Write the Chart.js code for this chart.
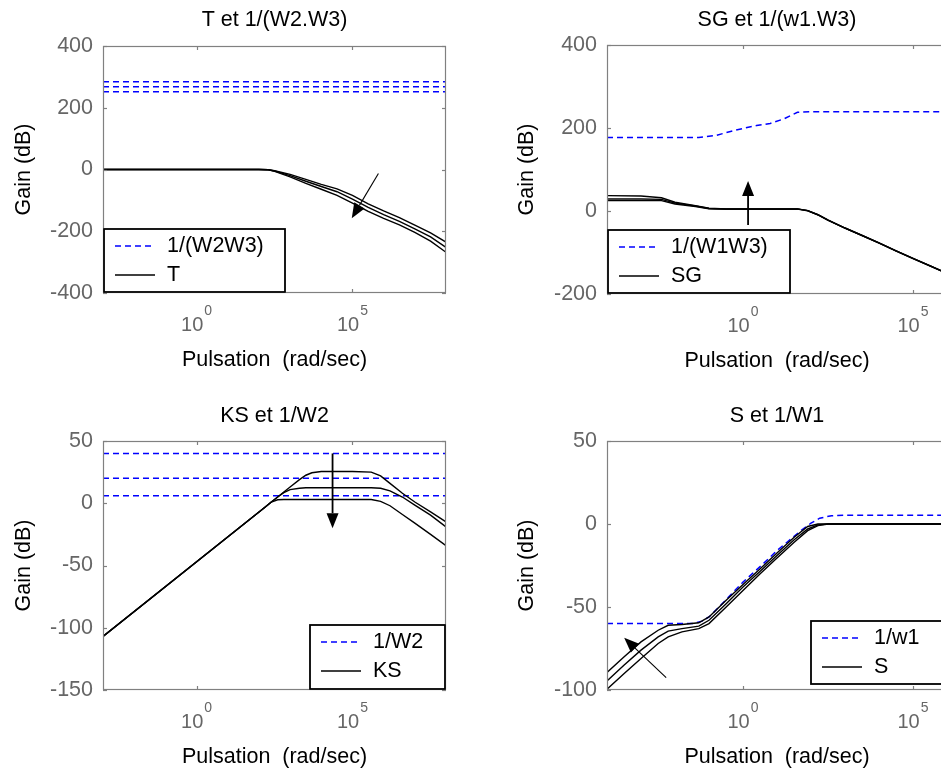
<!DOCTYPE html>
<html>
<head>
<meta charset="utf-8">
<title>Gabarits H-infini</title>
<script src="https://cdn.jsdelivr.net/npm/chart.js@4.4.1/dist/chart.umd.min.js"></script>
<style>
  html, body { margin: 0; padding: 0; background: #ffffff; width: 941px; height: 773px; overflow: hidden; }
  body { position: relative; }
  canvas { position: absolute; }
</style>
</head>
<body>
<canvas id="plotT"></canvas>
<canvas id="plotSG"></canvas>
<canvas id="plotKS"></canvas>
<canvas id="plotS"></canvas>
<script>
// ---------- T et 1/(W2.W3) ----------
const tFreq  = [1e-3, 1e2, 2e2, 3.2e2, 1e3, 3.2e3, 1e4, 3.2e4, 1e5, 3.2e5, 1e6, 3.2e6, 1e7, 3.2e7, 1e8];
const tGainA = [0, 0, -1, -4, -16, -32, -48, -63, -84, -111, -134, -156, -180, -205, -235];
const tGainB = [0, 0, -1, -5, -20, -38, -55, -72, -96, -123, -146, -168, -192, -218, -252];
const tGainC = [0, 0, -1, -6, -24, -45, -64, -84, -109, -136, -158, -179, -204, -232, -268];
const invW2W3Freq = [1e-3, 1e8];
const invW2W3A = [284, 284];
const invW2W3B = [268, 268];
const invW2W3C = [252, 252];
const tArrow = [6.8e5, -13, 9.5e4, -158];
const tLegend = ['1/(W2W3)', 'T'];

// ---------- SG et 1/(w1.W3) ----------
const sgFreq  = [1e-4, 1e-3, 4e-3, 1e-2, 4e-2, 0.1, 0.32, 1, 10, 40, 80, 160, 320, 1e3, 3.2e3, 1e4, 3.2e4, 1e5, 3.2e5, 1e6];
const sgGainA = [37, 36, 32, 21, 13, 6.5, 5, 5, 5, 5, 1, -9, -22, -41, -59, -77, -96, -114, -132, -150];
const sgGainB = [29, 29, 28, 19, 12, 6, 5, 5, 5, 5, 1, -9, -22, -41, -59, -77, -96, -114, -132, -150];
const sgGainC = [25, 25, 25, 17, 11, 5.5, 4.5, 4.5, 4.5, 4.5, 0.5, -9.5, -22.5, -41.5, -59.5, -77.5, -96.5, -114.5, -132.5, -150.5];
const invW1W3Freq = [1e-4, 5e-2, 0.16, 0.4, 1, 2.5, 6.3, 16, 25, 40, 100, 1e6];
const invW1W3     = [177, 177, 182, 191, 199, 206, 211, 222, 230, 238, 239, 239];
const sgArrow = [1.41, -34, 1.41, 72];
const sgLegend = ['1/(W1W3)', 'SG'];

// ---------- KS et 1/W2 ----------
const ksFreq  = [1e-3, 1.6e2, 2.5e2, 4e2, 6.3e2, 1e3, 2e3, 3.2e3, 5e3, 1e4, 1e5, 4e5, 8e5, 1.6e6, 4e6, 1e7, 3.2e7, 1e8];
const ksGainA = [-107, -3, 1, 5, 9, 13, 19, 22.5, 24.5, 25.5, 25.5, 25, 22, 16, 8, 1, -7, -15];
const ksGainB = [-107, -3, 1, 5, 8.5, 11, 12, 12.5, 12.5, 12.5, 12.5, 12.5, 12, 10, 5, -1.5, -9.5, -19];
const ksGainC = [-107, -3, 1, 2.8, 3, 3, 3, 3, 3, 3, 3, 3, 1.5, -2, -9, -16, -25, -34];
const invW2Freq = [1e-3, 1e8];
const invW2A = [40, 40];
const invW2B = [20, 20];
const invW2C = [6, 6];
const ksArrow = [2.3e4, 40, 2.3e4, -20];
const ksLegend = ['1/W2', 'KS'];

// ---------- S et 1/W1 ----------
const sFreq  = [1e-4, 3.2e-4, 1e-3, 3.2e-3, 6.3e-3, 1.6e-2, 5e-2, 0.1, 0.32, 1, 3.2, 10, 32, 80, 160, 320, 1e6];
const sGainA = [-89.5, -80, -71, -64, -61, -60.5, -59.5, -56, -46, -36.5, -27, -17.5, -8, -1.5, 0, 0, 0];
const sGainB = [-94.5, -85, -76, -68, -64.5, -63, -61.5, -58, -48, -38, -28.5, -19, -9.5, -3, -0.5, 0, 0];
const sGainC = [-99.5, -90, -81, -72, -68, -65, -63, -60, -50, -40, -30, -20.5, -11, -4, -1, 0, 0];
const invW1Freq = [1e-4, 3.2e-2, 6.3e-2, 0.1, 0.166, 1, 3.9, 10, 47, 100, 180, 400, 1e3, 1e6];
const invW1     = [-60, -60, -58.5, -56, -51.5, -35, -24, -16, -4.5, 0.5, 3.5, 5, 5.3, 5.3];
const sArrow = [5.5e-3, -92.6, 3.2e-4, -68.5];
const sLegend = ['1/w1', 'S'];

// shared axis text
const xTickValues = [1, 1e5];
const xTitle = 'Pulsation  (rad/sec)';
const yTitle = 'Gain (dB)';

// ---------- styling ----------
const FONT = '"Liberation Sans", Arial, Helvetica, sans-serif';
const FS = 21.5;
const LH = FS * 1.2;
const TICK_GREY = '#666666';
const FRAME_GREY = '#808080';
const BLUE = '#0000ff';
const Y_AXIS_W = 103;
const TITLE_H = 46;
const X_AXIS_H = 90;
const PAD_R = 5;

Chart.defaults.font.family = FONT;
Chart.defaults.font.size = FS;

function series(freq, gain, dashed) {
  return {
    data: freq.map((f, i) => ({ x: f, y: gain[i] })),
    borderColor: dashed ? BLUE : '#000000',
    borderWidth: dashed ? 1.5 : 1.4,
    borderDash: dashed ? [6, 4] : [],
    pointRadius: 0,
    tension: 0,
    fill: false,
    order: dashed ? 2 : 1
  };
}

function line(ctx, x0, y0, x1, y1) {
  ctx.beginPath(); ctx.moveTo(x0, y0); ctx.lineTo(x1, y1); ctx.stroke();
}

function arrow(ctx, x0, y0, x1, y1, len, wid) {
  const a = Math.atan2(y1 - y0, x1 - x0);
  const bx = x1 - len * Math.cos(a), by = y1 - len * Math.sin(a);
  line(ctx, x0, y0, bx, by);
  ctx.beginPath();
  ctx.moveTo(x1, y1);
  ctx.lineTo(bx + wid / 2 * Math.sin(a), by - wid / 2 * Math.cos(a));
  ctx.lineTo(bx - wid / 2 * Math.sin(a), by + wid / 2 * Math.cos(a));
  ctx.closePath();
  ctx.fill();
}

// frame, inward ticks, exponent tick labels, annotation arrow, boxed legend
const bodeDecor = {
  id: 'bodeDecor',
  afterDatasetsDraw(chart, args, opts) {
    const { ctx, chartArea: a } = chart;
    const x = chart.scales.x, y = chart.scales.y;
    ctx.save();

    // arrow
    if (opts.arrow) {
      const [ax0, ay0, ax1, ay1] = opts.arrow;
      ctx.strokeStyle = '#000'; ctx.fillStyle = '#000';
      ctx.lineWidth = opts.arrowWidth || 1.6; ctx.setLineDash([]);
      arrow(ctx, x.getPixelForValue(ax0), y.getPixelForValue(ay0),
                 x.getPixelForValue(ax1), y.getPixelForValue(ay1), 15, 12);
    }

    // frame
    ctx.strokeStyle = FRAME_GREY; ctx.lineWidth = 1.2; ctx.setLineDash([]);
    ctx.strokeRect(a.left + 0.5, a.top + 0.5, a.right - a.left - 1, a.bottom - a.top - 1);

    // inward tick marks
    x.ticks.forEach(t => {
      const px = Math.round(x.getPixelForValue(t.value)) + 0.5;
      line(ctx, px, a.bottom, px, a.bottom - 4);
      line(ctx, px, a.top, px, a.top + 4);
    });
    y.ticks.forEach(t => {
      const py = Math.round(y.getPixelForValue(t.value)) + 0.5;
      line(ctx, a.left, py, a.left + 4, py);
      line(ctx, a.right, py, a.right - 4, py);
    });

    // decade labels 10^n
    ctx.fillStyle = TICK_GREY; ctx.textAlign = 'left'; ctx.textBaseline = 'alphabetic';
    x.ticks.forEach(t => {
      const px = x.getPixelForValue(t.value);
      const exp = String(Math.round(Math.log10(t.value)));
      ctx.font = `20px ${FONT}`;
      const w1 = ctx.measureText('10').width;
      ctx.font = `14px ${FONT}`;
      const w2 = ctx.measureText(exp).width;
      const x0 = px - (w1 + 1 + w2) / 2;
      ctx.font = `20px ${FONT}`;
      ctx.fillText('10', x0, a.bottom + 38);
      ctx.font = `14px ${FONT}`;
      ctx.fillText(exp, x0 + w1 + 1, a.bottom + 22);
    });

    // legend box
    const lg = opts.legend;
    if (lg) {
      const lx = lg.corner === 'se' ? a.right - lg.w : a.left;
      const ly = a.bottom - lg.h + (lg.dy || 0);
      ctx.fillStyle = '#ffffff';
      ctx.fillRect(lx, ly, lg.w, lg.h);
      ctx.strokeStyle = '#000'; ctx.lineWidth = 1.8;
      ctx.strokeRect(lx + 1, ly + 1, lg.w - 2, lg.h - 2);
      const rows = [ly + 18, ly + 47];
      lg.labels.forEach((lab, i) => {
        ctx.setLineDash(i === 0 ? [6, 4] : []);
        ctx.strokeStyle = i === 0 ? BLUE : '#000';
        ctx.lineWidth = i === 0 ? 1.6 : 1.4;
        line(ctx, lx + 12, rows[i], lx + 52, rows[i]);
        ctx.setLineDash([]);
        ctx.fillStyle = '#000';
        ctx.font = `${FS}px ${FONT}`;
        ctx.textAlign = 'left'; ctx.textBaseline = 'middle';
        ctx.fillText(lab, lx + 64, rows[i]);
      });
    }
    ctx.restore();
  }
};

function bodePlot(id, box, spec) {
  const canvas = document.getElementById(id);
  const left = box.l - Y_AXIS_W;
  const top = box.t - TITLE_H;
  canvas.style.left = left + 'px';
  canvas.style.top = top + 'px';
  canvas.width = box.r - left + PAD_R;
  canvas.height = box.b - top + X_AXIS_H;
  const titlePadTop = box.titleY - top - LH / 2;

  new Chart(canvas, {
    type: 'line',
    data: { datasets: spec.datasets },
    plugins: [bodeDecor],
    options: {
      responsive: false,
      animation: false,
      devicePixelRatio: 1,
      layout: { padding: { left: 0, top: 0, right: PAD_R, bottom: 0 } },
      plugins: {
        legend: { display: false },
        tooltip: { enabled: false },
        title: {
          display: true,
          text: spec.title,
          color: '#000',
          fullSize: false,
          font: { family: FONT, size: FS, weight: 'normal' },
          padding: { top: titlePadTop, bottom: TITLE_H - titlePadTop - LH }
        },
        bodeDecor: { arrow: spec.arrow, arrowWidth: spec.arrowWidth, legend: spec.legend }
      },
      scales: {
        x: {
          type: 'logarithmic',
          min: spec.xMin, max: spec.xMax,
          grid: { display: false },
          border: { display: false },
          ticks: { display: false },
          afterBuildTicks: s => { s.ticks = xTickValues.map(v => ({ value: v })); },
          afterFit: s => { s.height = X_AXIS_H; },
          title: {
            display: true, text: xTitle, color: '#000',
            font: { family: FONT, size: FS },
            padding: { top: 0, bottom: X_AXIS_H - 67 - LH / 2 }
          }
        },
        y: {
          type: 'linear',
          min: spec.yMin, max: spec.yMax,
          grid: { display: false, drawTicks: false },
          border: { display: false },
          ticks: { stepSize: spec.yStep, color: TICK_GREY, padding: 10, font: { family: FONT, size: FS } },
          afterFit: s => { s.width = Y_AXIS_W; },
          title: {
            display: true, text: yTitle, color: '#000',
            font: { family: FONT, size: FS },
            padding: { top: box.ylabX - left - LH / 2, bottom: 0 }
          }
        }
      }
    }
  });
}

bodePlot('plotT', { l: 103, t: 46, r: 446, b: 293, titleY: 20, ylabX: 24 }, {
  title: 'T et 1/(W2.W3)',
  xMin: 1e-3, xMax: 1e8, yMin: -400, yMax: 400, yStep: 200,
  datasets: [
    series(tFreq, tGainA, false), series(tFreq, tGainB, false), series(tFreq, tGainC, false),
    series(invW2W3Freq, invW2W3A, true), series(invW2W3Freq, invW2W3B, true), series(invW2W3Freq, invW2W3C, true)
  ],
  arrow: tArrow, arrowWidth: 1.1,
  legend: { labels: tLegend, corner: 'sw', w: 183, h: 65 }
});

bodePlot('plotSG', { l: 607, t: 45, r: 947, b: 294, titleY: 20, ylabX: 527 }, {
  title: 'SG et 1/(w1.W3)',
  xMin: 1e-4, xMax: 1e6, yMin: -200, yMax: 400, yStep: 200,
  datasets: [
    series(sgFreq, sgGainA, false), series(sgFreq, sgGainB, false), series(sgFreq, sgGainC, false),
    series(invW1W3Freq, invW1W3, true)
  ],
  arrow: sgArrow, arrowWidth: 1.8,
  legend: { labels: sgLegend, corner: 'sw', w: 184, h: 65 }
});

bodePlot('plotKS', { l: 103, t: 441, r: 446, b: 690, titleY: 416, ylabX: 24 }, {
  title: 'KS et 1/W2',
  xMin: 1e-3, xMax: 1e8, yMin: -150, yMax: 50, yStep: 50,
  datasets: [
    series(ksFreq, ksGainA, false), series(ksFreq, ksGainB, false), series(ksFreq, ksGainC, false),
    series(invW2Freq, invW2A, true), series(invW2Freq, invW2B, true), series(invW2Freq, invW2C, true)
  ],
  arrow: ksArrow, arrowWidth: 1.8,
  legend: { labels: ksLegend, corner: 'se', w: 137, h: 66 }
});

bodePlot('plotS', { l: 607, t: 441, r: 947, b: 690, titleY: 416, ylabX: 527 }, {
  title: 'S et 1/W1',
  xMin: 1e-4, xMax: 1e6, yMin: -100, yMax: 50, yStep: 50,
  datasets: [
    series(sFreq, sGainA, false), series(sFreq, sGainB, false), series(sFreq, sGainC, false),
    series(invW1Freq, invW1, true)
  ],
  arrow: sArrow, arrowWidth: 1.1,
  legend: { labels: sLegend, corner: 'se', w: 137, h: 65, dy: -5 }
});
</script>
</body>
</html>
